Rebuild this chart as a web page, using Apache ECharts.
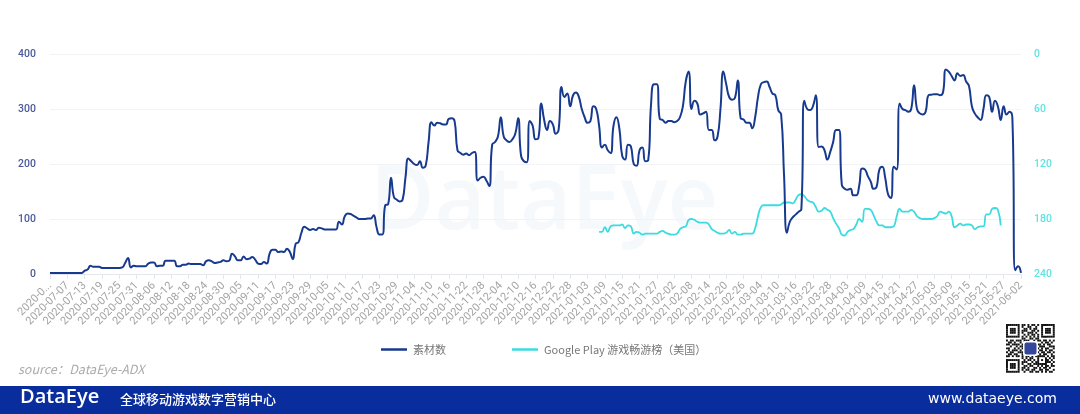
<!DOCTYPE html>
<html><head><meta charset="utf-8">
<style>html,body{margin:0;padding:0;background:#fff}#c{width:1080px;height:414px}</style>
<script src="https://cdn.jsdelivr.net/npm/echarts@6/dist/echarts.min.js"></script>
</head><body><div id="c"></div>
<script>
const startDate = '2020-07-01';
const materialCounts = [
2,2,2,2,2,2, 2,2,2,2,2,2, 6,8,15,13,13,13, 11,11,11,11,11,11, 11,12,20,29,12,15,
14,14,14,14,19,21, 21,14,15,15,24,24, 24,24,14,14,17,17, 19,18,18,18,18,16,
23,25,23,20,21,22, 25,23,24,37,32,25, 25,32,27,28,31,26, 19,18,22,19,37,44,
44,40,41,40,46,40, 27,55,58,75,86,83, 80,82,80,84,83,81, 81,81,81,81,95,90,
105,110,109,106,103,100, 100,100,101,101,107,85, 72,72,125,127,175,140,
135,132,135,175,210,205, 200,198,205,193,197,240, 276,270,275,274,272,272,
282,283,278,225,220,217, 219,216,220,222,170,175, 177,170,160,235,240,250,
285,250,243,240,245,255, 283,215,205,203,278,270, 245,247,310,280,262,278,
272,255,262,340,322,328, 305,325,330,322,300,285, 275,278,305,300,270,230,
235,225,220,270,285,265, 215,208,235,232,200,197, 225,230,205,207,310,345,
345,282,280,275,278,278, 276,278,285,305,350,368, 300,315,310,290,292,295,
262,262,243,250,300,368, 345,322,317,320,352,283, 281,275,275,265,285,322,
345,349,350,340,328,325, 298,290,180,75,95,103, 108,113,118,315,300,298,
305,325,231,232,225,208, 222,240,262,262,162,155, 153,155,143,143,160,192,
190,178,168,155,158,190, 195,175,145,138,195,190, 310,300,298,295,300,343,
300,292,290,295,325,326, 327,327,325,330,372,368, 360,352,365,360,362,350,
342,305,292,285,280,300, 325,322,295,315,305,280, 305,290,295,285,7,14,2
];
const chartRankLeadingGap = 190;
const googlePlayRanks = [
194,194,189,194,188,187,187,187, 186,190,187,188,196,194, 195,197,196,196,196,196,
196,194,193,195,196,197, 197,196,191,189,188,181, 180,181,183,184,184,184,
186,191,193,195,196,196, 195,192,196,194,197,197, 196,196,196,196,190,177,
167,165,165,165,165,165, 165,164,162,162,162,163, 159,154,153,155,159,161,
162,167,172,171,168,170, 172,179,185,190,197,198, 194,192,191,186,180,183,
169,169,170,176,183,187, 187,189,189,189,188,177, 169,172,172,172,170,172,
177,179,180,180,180,180, 179,177,172,173,174,172, 177,189,187,185,187,186,
186,187,191,189,188,188, 175,175,169,168,170,187
];
const leftTicks = [0,100,200,300,400];
const rightTicks = [0,60,120,180,240];
const qrRows = [
'1111111011010110101111111','1000001010011001001000001','1011101001101011001011101','1011101011100110101011101',
'1011101010011101001011101','1000001001010110101000001','1111111010101010101111111','0000000011001101100000000',
'1011011101110010110110101','0110100100101101001011010','1101111011001011110101100','0010010110111001011100111',
'1100101011000001101011001','0101110100000001011010110','1011001110000000101101101','0110110011000001010110010',
'1101011010110101111101011','0000000010101100100010101','1111111001011010101011010','1000001011100101100011101',
'1011101010011011111110010','1011101001101100101011011','1011101011010011010110100','1000001010110110011011001',
'1111111001001101101010110'
];

function pad(n){return String(n).padStart(2,'0');}
const categories = materialCounts.map((_,i)=>{
  const d = new Date(Date.parse(startDate+'T00:00:00Z')+i*86400000);
  return d.getUTCFullYear()+'-'+pad(d.getUTCMonth()+1)+'-'+pad(d.getUTCDate());
});
const rankSeries = categories.map((_,i)=>{
  const v = googlePlayRanks[i-chartRankLeadingGap];
  return v===undefined?null:v;
});
const qrEls=[];
const m=1.95;
qrRows.forEach((r,y)=>{[...r].forEach((c,x)=>{
  if(c==='1') qrEls.push({type:'rect',shape:{x:x*m,y:y*m,width:m,height:m},style:{fill:'#111'}});
});});
qrEls.push({type:'rect',shape:{x:17,y:17,width:15,height:15,r:2},style:{fill:'#fff'}});
qrEls.push({type:'rect',shape:{x:18.5,y:18.5,width:12,height:12,r:2},style:{fill:'#34479c'}});

const chart = echarts.init(document.getElementById('c'),null,{renderer:'canvas'});
const axisFont='Roboto';
chart.setOption({
  animation:false,
  backgroundColor:'#fff',
  grid:{left:50,right:59,top:54,bottom:140},
  legend:{left:376,top:339,itemWidth:26,itemHeight:2.5,itemGap:66,
    icon:'rect',
    textStyle:{color:'#777',fontSize:11,fontFamily:'Noto Sans CJK SC',padding:[0,0,0,1]},
    data:['素材数','Google Play 游戏畅游榜（美国）']},
  xAxis:{type:'category',boundaryGap:false,data:categories,
    axisLine:{lineStyle:{color:'#e3e6ee',width:1}},
    axisTick:{interval:5,length:5,lineStyle:{color:'#e3e6ee'}},
    axisLabel:{interval:5,rotate:45,color:'#a4a4a4',fontSize:11,fontFamily:axisFont,margin:10,hideOverlap:false,
      formatter:(v,i)=>i===0?'2020-0...':v}},
  yAxis:[
    {type:'value',min:leftTicks[0],max:leftTicks[4],interval:100,
      axisLine:{show:false},axisTick:{show:false},
      splitLine:{lineStyle:{color:'#f1f3f6'}},
      axisLabel:{color:'#4b5a9c',fontSize:10.5,fontFamily:axisFont,fontWeight:500,margin:14}},
    {type:'value',min:rightTicks[0],max:rightTicks[4],interval:60,inverse:true,position:'right',
      axisLine:{show:false},axisTick:{show:false},splitLine:{show:false},
      axisLabel:{color:'#5fe3e3',fontSize:10.5,fontFamily:axisFont,fontWeight:500,margin:13}}
  ],
  series:[
    {name:'素材数',type:'line',yAxisIndex:0,data:materialCounts,smooth:true,symbol:'none',z:3,
      lineStyle:{color:'#173a8e',width:2},itemStyle:{color:'#173a8e'}},
    {name:'Google Play 游戏畅游榜（美国）',type:'line',yAxisIndex:1,data:rankSeries,smooth:true,symbol:'none',z:2,connectNulls:false,
      lineStyle:{color:'#3cdbe0',width:1.8},itemStyle:{color:'#3cdbe0'}}
  ],
  graphic:[
    {type:'text',left:370,top:160,z:0,style:{text:'DataEye',fill:'#f6f9fc',font:'600 88px "Open Sans"'}},
    {type:'text',left:18,top:363,style:{text:'source：DataEye-ADX',fill:'#ababab',font:'italic 12.5px "Noto Sans CJK SC"'}},
    {type:'rect',shape:{x:0,y:386,width:1080,height:28},style:{fill:'#0a2d9e'}},
    {type:'text',left:20,top:387,style:{text:'DataEye',fill:'#fff',font:'600 20px "Open Sans"'}},
    {type:'text',left:120,top:393,style:{text:'全球移动游戏数字营销中心',fill:'#fff',font:'500 13px "Noto Sans CJK SC"'}},
    {type:'text',left:928,top:392,style:{text:'www.dataeye.com',fill:'#fff',font:'14px "DejaVu Sans"'}},
    {type:'group',left:1006,top:324,children:qrEls}
  ]
});
</script></body></html>
